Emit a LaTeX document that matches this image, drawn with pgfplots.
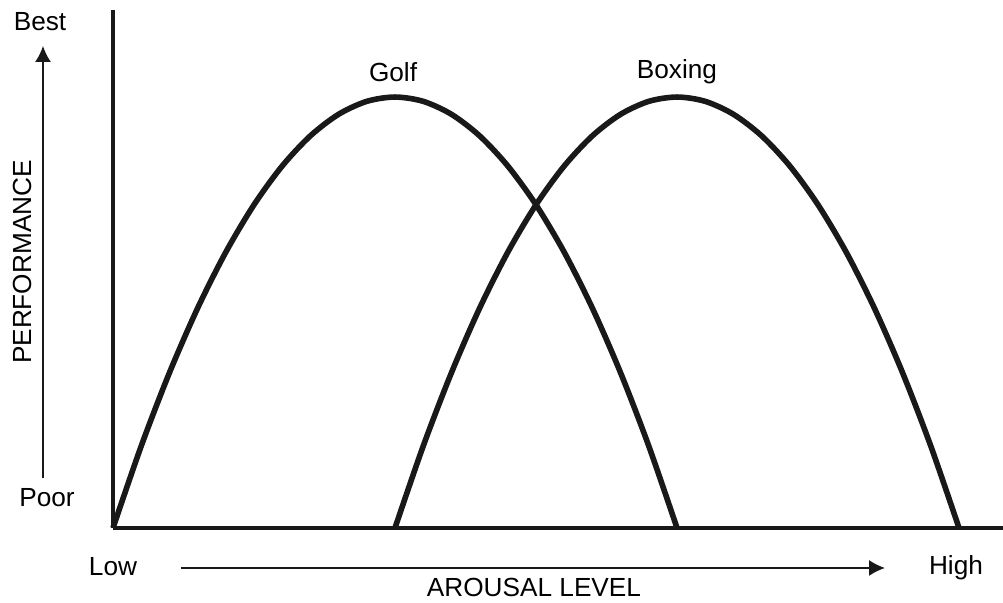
\documentclass[border=0pt]{standalone}
\usepackage{fontspec}
\setmainfont{Liberation Sans}
\usepackage{pgfplots}
\pgfplotsset{compat=1.18}
\usetikzlibrary{arrows.meta}

\begin{document}
\begin{tikzpicture}[font=\fontsize{13.1}{15.5}\selectfont]
\path[use as bounding box] (-56.5pt,-37.5pt) rectangle (445pt,264pt);
\begin{axis}[
    scale only axis,
    width=445pt, height=259pt,
    xmin=0, xmax=3.156,
    ymin=0, ymax=1.202,
    axis x line=bottom, axis y line=left,
    axis line style={line width=2pt, -, black!90},
    xtick=\empty, ytick=\empty,
    clip=false,
]
% Golf
\addplot[smooth, line width=2.8pt, black!90] coordinates {
    (0,0) (0.1,0.19) (0.2,0.36) (0.3,0.51) (0.4,0.64) (0.5,0.75)
    (0.6,0.84) (0.7,0.91) (0.8,0.96) (0.9,0.99) (1,1)
    (1.1,0.99) (1.2,0.96) (1.3,0.91) (1.4,0.84) (1.5,0.75)
    (1.6,0.64) (1.7,0.51) (1.8,0.36) (1.9,0.19) (2,0)
};
% Boxing
\addplot[smooth, line width=2.8pt, black!90] coordinates {
    (1,0) (1.1,0.19) (1.2,0.36) (1.3,0.51) (1.4,0.64) (1.5,0.75)
    (1.6,0.84) (1.7,0.91) (1.8,0.96) (1.9,0.99) (2,1)
    (2.1,0.99) (2.2,0.96) (2.3,0.91) (2.4,0.84) (2.5,0.75)
    (2.6,0.64) (2.7,0.51) (2.8,0.36) (2.9,0.19) (3,0)
};
\node at (axis cs:0.993,1.058) {Golf};
\node at (axis cs:2.0,1.058) {Boxing};
\end{axis}

% vertical axis annotation
\node at (-36.5pt,253pt) {Best};
\node at (-33pt,15pt) {Poor};
\node[rotate=90] at (-45.5pt,133pt) {PERFORMANCE};
\draw[line width=0.75pt, black!90, -{Latex[length=8pt,width=8pt]}] (-35pt,25pt) -- (-35pt,241pt);

% horizontal axis annotation
\node at (0pt,-19.5pt) {Low};
\node at (421.5pt,-20pt) {High};
\node at (210.5pt,-29.5pt) {AROUSAL LEVEL};
\draw[line width=0.75pt, black!90, -{Latex[length=8pt,width=8pt]}] (34pt,-20pt) -- (386pt,-20pt);
\end{tikzpicture}
\end{document}
